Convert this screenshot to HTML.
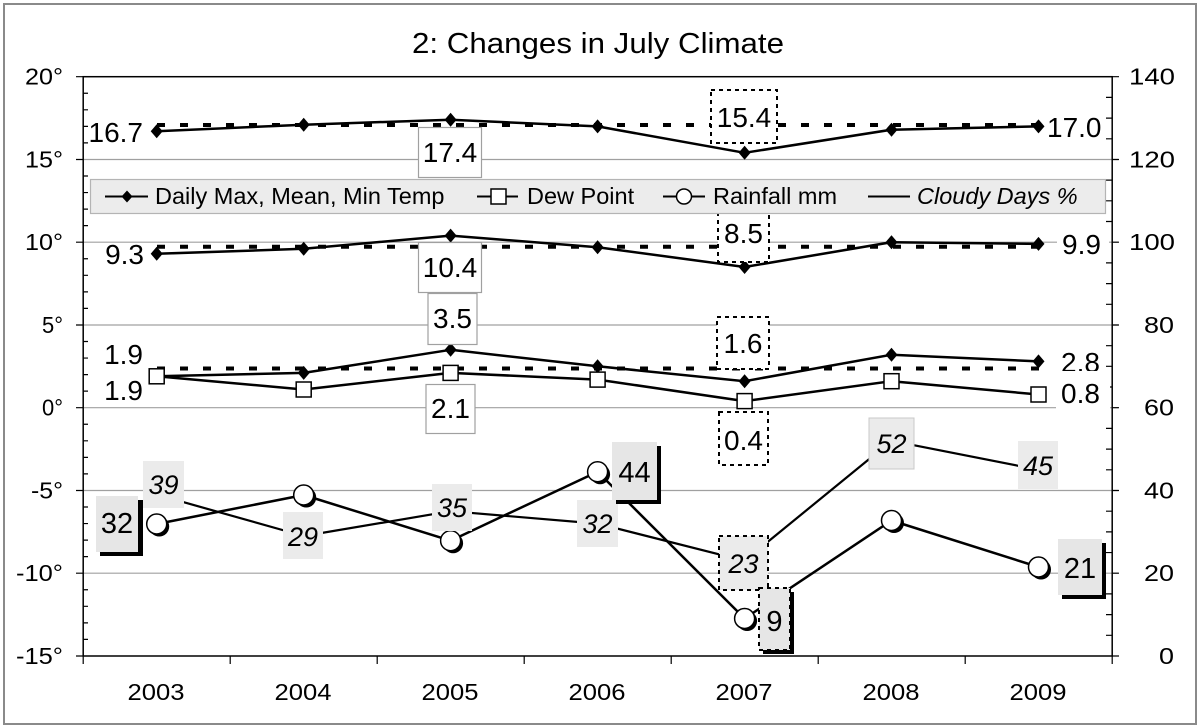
<!DOCTYPE html>
<html><head><meta charset="utf-8"><style>
html,body{margin:0;padding:0;background:#fff;}
svg{display:block;}
text{font-family:"Liberation Sans",Arial,sans-serif;fill:#000;}
</style></head><body>
<svg width="1200" height="727" viewBox="0 0 1200 727" xmlns="http://www.w3.org/2000/svg">
<defs>
<path id="dm" d="M0,-7L6,0L0,7L-6,0Z" fill="#000"/>
<rect id="sq" x="-7.5" y="-7.5" width="15" height="15" fill="#fff" stroke="#000" stroke-width="1.5"/>
<g id="cir"><circle cx="2.5" cy="2.5" r="10" fill="#000"/><circle cx="0" cy="0" r="10" fill="#fff" stroke="#000" stroke-width="1.5"/></g>
</defs>
<rect x="0" y="0" width="1200" height="727" fill="#fff"/>
<rect x="4" y="4" width="1192" height="720" fill="none" stroke="#8a8a8a" stroke-width="2"/>
<text x="598" y="53" font-size="29" text-anchor="middle" textLength="372" lengthAdjust="spacingAndGlyphs">2: Changes in July Climate</text>

<!-- gridlines -->
<g stroke="#a0a0a0" stroke-width="1.2">
<path d="M83 159.5H1118M83 242.2H1118M83 325H1118M83 407.7H1118M83 490.5H1118M83 573.2H1118"/>
</g>
<!-- plot frame -->
<rect x="83.2" y="76.7" width="1029" height="579.3" fill="none" stroke="#000" stroke-width="1.5"/>
<!-- ticks -->
<g stroke="#000" stroke-width="1.2">
<path d="M76 76.7h7M76 159.5h7M76 242.2h7M76 325h7M76 407.7h7M76 490.5h7M76 573.2h7M76 656h7"/>
<path d="M1112 76.7h7M1112 159.5h7M1112 242.2h7M1112 325h7M1112 407.7h7M1112 490.5h7M1112 573.2h7M1112 656h7"/>
<path d="M83 93.25h5M83 109.8h5M83 126.35h5M83 142.9h5M83 176h5M83 192.55h5M83 209.1h5M83 225.65h5M83 258.75h5M83 275.3h5M83 291.85h5M83 308.4h5M83 341.5h5M83 358.05h5M83 374.6h5M83 391.15h5M83 424.25h5M83 440.8h5M83 457.35h5M83 473.9h5M83 507h5M83 523.55h5M83 540.1h5M83 556.65h5M83 589.75h5M83 606.3h5M83 622.85h5M83 639.4h5"/>
<path d="M1106 635.3h6M1106 614.6h6M1106 593.9h6M1106 552.55h6M1106 531.9h6M1106 511.2h6M1106 469.8h6M1106 449.1h6M1106 428.4h6M1106 387h6M1106 366.3h6M1106 345.7h6M1106 304.3h6M1106 283.6h6M1106 262.9h6M1106 221.5h6M1106 200.8h6M1106 180.1h6M1106 138.8h6M1106 118.1h6M1106 97.4h6"/>
<path d="M83.2 656v8M230.2 656v8M377.2 656v8M524.2 656v8M671.2 656v8M818.2 656v8M965.2 656v8M1112.2 656v8"/>
</g>

<!-- axis labels -->
<g font-size="23" lengthAdjust="spacingAndGlyphs">
<text x="25" y="84.5" textLength="38" lengthAdjust="spacingAndGlyphs">20°</text>
<text x="25" y="167.5" textLength="38" lengthAdjust="spacingAndGlyphs">15°</text>
<text x="25" y="250" textLength="38" lengthAdjust="spacingAndGlyphs">10°</text>
<text x="42" y="333" textLength="21" lengthAdjust="spacingAndGlyphs">5°</text>
<text x="42" y="415.5" textLength="21" lengthAdjust="spacingAndGlyphs">0°</text>
<text x="31" y="498.5" textLength="32" lengthAdjust="spacingAndGlyphs">-5°</text>
<text x="16" y="581" textLength="47" lengthAdjust="spacingAndGlyphs">-10°</text>
<text x="16" y="664" textLength="47" lengthAdjust="spacingAndGlyphs">-15°</text>
<text x="1129" y="84.5" textLength="46" lengthAdjust="spacingAndGlyphs">140</text>
<text x="1129" y="167.5" textLength="46" lengthAdjust="spacingAndGlyphs">120</text>
<text x="1129" y="250" textLength="46" lengthAdjust="spacingAndGlyphs">100</text>
<text x="1144" y="333" textLength="30" lengthAdjust="spacingAndGlyphs">80</text>
<text x="1144" y="415.5" textLength="30" lengthAdjust="spacingAndGlyphs">60</text>
<text x="1144" y="498.5" textLength="30" lengthAdjust="spacingAndGlyphs">40</text>
<text x="1144" y="581" textLength="30" lengthAdjust="spacingAndGlyphs">20</text>
<text x="1159" y="664" textLength="15" lengthAdjust="spacingAndGlyphs">0</text>
</g>
<g font-size="23">
<text x="127.5" y="700" textLength="57" lengthAdjust="spacingAndGlyphs">2003</text>
<text x="274.5" y="700" textLength="57" lengthAdjust="spacingAndGlyphs">2004</text>
<text x="421.5" y="700" textLength="57" lengthAdjust="spacingAndGlyphs">2005</text>
<text x="568.5" y="700" textLength="57" lengthAdjust="spacingAndGlyphs">2006</text>
<text x="715.5" y="700" textLength="57" lengthAdjust="spacingAndGlyphs">2007</text>
<text x="862.5" y="700" textLength="57" lengthAdjust="spacingAndGlyphs">2008</text>
<text x="1009.5" y="700" textLength="57" lengthAdjust="spacingAndGlyphs">2009</text>
</g>

<!-- dashed average lines -->
<g stroke="#000" stroke-width="4" stroke-dasharray="8 15" fill="none">
<path d="M157 125H1039"/>
<path d="M157 246.7H1039"/>
<path d="M157 368.5H1039"/>
</g>

<!-- temperature lines -->
<g stroke="#000" stroke-width="2.5" fill="none" stroke-linejoin="round">
<polyline points="156.7,131.3 303.7,124.7 450.6,119.7 597.6,126.4 744.6,152.8 891.5,129.7 1038.5,126.4"/>
<polyline points="156.7,253.8 303.7,248.8 450.6,235.6 597.6,247.2 744.6,267 891.5,242.2 1038.5,243.9"/>
<polyline points="156.7,376.3 303.7,372.9 450.6,349.8 597.6,366.3 744.6,381.2 891.5,354.7 1038.5,361.4"/>
<polyline points="156.7,376.3 303.7,389.5 450.6,372.9 597.6,379.6 744.6,401.1 891.5,381.2 1038.5,394.5"/>
</g>
<g>
<use href="#dm" x="156.7" y="131.3"/><use href="#dm" x="303.7" y="124.7"/><use href="#dm" x="450.6" y="119.7"/><use href="#dm" x="597.6" y="126.4"/><use href="#dm" x="744.6" y="152.8"/><use href="#dm" x="891.5" y="129.7"/><use href="#dm" x="1038.5" y="126.4"/>
<use href="#dm" x="156.7" y="253.8"/><use href="#dm" x="303.7" y="248.8"/><use href="#dm" x="450.6" y="235.6"/><use href="#dm" x="597.6" y="247.2"/><use href="#dm" x="744.6" y="267"/><use href="#dm" x="891.5" y="242.2"/><use href="#dm" x="1038.5" y="243.9"/>
<use href="#dm" x="156.7" y="376.3"/><use href="#dm" x="303.7" y="372.9"/><use href="#dm" x="450.6" y="349.8"/><use href="#dm" x="597.6" y="366.3"/><use href="#dm" x="744.6" y="381.2"/><use href="#dm" x="891.5" y="354.7"/><use href="#dm" x="1038.5" y="361.4"/>
<use href="#sq" x="156.7" y="376.3"/><use href="#sq" x="303.7" y="389.5"/><use href="#sq" x="450.6" y="372.9"/><use href="#sq" x="597.6" y="379.6"/><use href="#sq" x="744.6" y="401.1"/><use href="#sq" x="891.5" y="381.2"/><use href="#sq" x="1038.5" y="394.5"/>
</g>

<!-- cloudy days line -->
<polyline points="156.7,494.6 303.7,536 450.6,511.2 597.6,523.6 744.6,560.8 891.5,440.8 1038.5,469.8" fill="none" stroke="#000" stroke-width="2.2" stroke-linejoin="round"/>
<!-- rainfall line -->
<polyline points="156.7,524 303.7,495 450.6,540.7 597.6,471.7 744.6,618.5 891.5,520.5 1038.5,567" fill="none" stroke="#000" stroke-width="2.5" stroke-linejoin="round"/>
<g>
<use href="#cir" x="156.7" y="524"/><use href="#cir" x="303.7" y="495"/><use href="#cir" x="450.6" y="540.7"/><use href="#cir" x="597.6" y="471.7"/><use href="#cir" x="744.6" y="618.5"/><use href="#cir" x="891.5" y="520.5"/><use href="#cir" x="1038.5" y="567"/>
</g>

<!-- temperature labels -->
<g font-size="28">
<text x="143" y="142" text-anchor="end">16.7</text>
<text x="144" y="264" text-anchor="end">9.3</text>
<text x="143" y="364" text-anchor="end">1.9</text>
<text x="143" y="400" text-anchor="end">1.9</text>
<text x="1047" y="137">17.0</text>
<rect x="1057" y="229" width="52" height="32" fill="#fff"/>
<text x="1062" y="254">9.9</text>
<text x="1061" y="372">2.8</text>
<rect x="1056" y="371" width="54" height="40" fill="#fff"/>
<text x="1061" y="403">0.8</text>
</g>
<g fill="#fff" stroke="#a0a0a0" stroke-width="1.2">
<rect x="418.5" y="127.5" width="63" height="50"/>
<rect x="418.5" y="242.5" width="63" height="50"/>
<rect x="428" y="293.5" width="49" height="51"/>
<rect x="426" y="384.5" width="49" height="49"/>
</g>
<g fill="#fff" stroke="#000" stroke-width="2" stroke-dasharray="4 4">
<rect x="711" y="90" width="66" height="53"/>
<rect x="718" y="210" width="51" height="52"/>
<rect x="717" y="317" width="52" height="52"/>
<rect x="719" y="412" width="49" height="53"/>
</g>
<g font-size="28" text-anchor="middle">
<text x="450" y="162">17.4</text>
<text x="450" y="277">10.4</text>
<text x="452.5" y="328">3.5</text>
<text x="450.5" y="418">2.1</text>
<text x="744" y="127">15.4</text>
<text x="743.5" y="243">8.5</text>
<text x="743" y="353">1.6</text>
<text x="743.5" y="450">0.4</text>
</g>

<!-- cloudy labels -->
<g fill="#ebebeb">
<rect x="143" y="461" width="41" height="47"/>
<rect x="283" y="512" width="40" height="47"/>
<rect x="432" y="484" width="40" height="47"/>
<rect x="577" y="500" width="41" height="47"/>
<rect x="869" y="418" width="45" height="51" stroke="#c8c8c8" stroke-width="1"/>
<rect x="1018" y="441" width="40" height="48"/>
</g>
<rect x="719" y="536" width="49" height="54" fill="#ebebeb" stroke="#000" stroke-width="2" stroke-dasharray="4 4"/>
<g font-size="27" font-style="italic" text-anchor="middle">
<text x="163.5" y="494">39</text>
<text x="303" y="546">29</text>
<text x="452" y="517">35</text>
<text x="597.5" y="533">32</text>
<text x="743.5" y="573">23</text>
<text x="891.5" y="453">52</text>
<text x="1038" y="475">45</text>
</g>

<!-- rainfall labels -->
<g fill="#000">
<rect x="100" y="500" width="43" height="56"/>
<rect x="616" y="446" width="45" height="58"/>
<rect x="763" y="592" width="31" height="62"/>
<rect x="1062" y="543" width="44" height="56"/>
</g>
<g fill="#e6e6e6">
<rect x="96" y="496" width="42" height="56"/>
<rect x="612" y="442" width="45" height="58"/>
<rect x="1058" y="539" width="44" height="56"/>
</g>
<rect x="759" y="588" width="31" height="62" fill="#e6e6e6" stroke="#000" stroke-width="2" stroke-dasharray="4 4"/>
<g font-size="29" text-anchor="middle">
<text x="117" y="533">32</text>
<text x="634.5" y="482">44</text>
<text x="774.5" y="631">9</text>
<text x="1080" y="578">21</text>
</g>

<!-- legend -->
<rect x="90.5" y="179.5" width="1015" height="34" fill="#ececec" stroke="#b4b4b4" stroke-width="1.2"/>
<g stroke="#000" stroke-width="2">
<path d="M105 196.5H148M477 196.5H518M663 196.5H705M868 196.5H910"/>
</g>
<path d="M127,190.5L132.5,196.5L127,202.5L121.5,196.5Z" fill="#000"/>
<rect x="491" y="189" width="15" height="15" fill="#fff" stroke="#000" stroke-width="1.5"/>
<circle cx="684" cy="196.5" r="7.5" fill="#fff" stroke="#000" stroke-width="1.5"/>
<g font-size="23.5">
<text x="155" y="204">Daily Max, Mean, Min Temp</text>
<text x="527" y="204">Dew Point</text>
<text x="713" y="204">Rainfall mm</text>
<text x="917" y="204" font-style="italic">Cloudy Days %</text>
</g>
</svg>
</body></html>
